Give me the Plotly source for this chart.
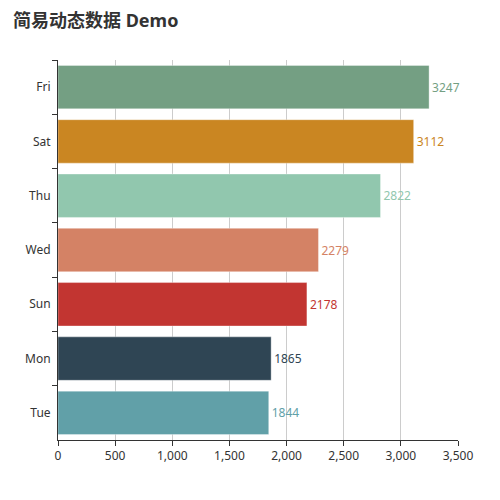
import plotly.graph_objects as go

# **** Data
days = ["Fri", "Sat", "Thu", "Wed", "Sun", "Mon", "Tue"]
values = [3247, 3112, 2822, 2279, 2178, 1865, 1844]
colors = ["#749f83", "#ca8622", "#91c7ae", "#d48265", "#c23531", "#2f4554", "#61a0a8"]
x_ticks = [0, 500, 1000, 1500, 2000, 2500, 3000, 3500]

font_family = "Noto Sans, Noto Sans CJK SC, sans-serif"

# the page puts the figure 8px in from the top-left corner
off = 8
fig_w, fig_h = 500 - off, 500 - off
# plot area in page pixels: 58..458 across, 60..440 down
ml, mt, pw, ph = 58 - off, 60 - off, 400, 380

fig = go.Figure()
fig.add_trace(
    go.Bar(
        orientation="h",
        x=values,
        y=days,
        marker=dict(color=colors, line=dict(color="rgba(255,255,255,0.35)", width=1)),
        text=[str(v) for v in values],
        textposition="outside",
        textfont=dict(color=colors, size=12, family=font_family),
        cliponaxis=False,
        showlegend=False,
        hoverinfo="skip",
    )
)

fig.update_layout(
    width=fig_w,
    height=fig_h,
    margin=dict(l=ml, r=fig_w - ml - pw, t=mt, b=fig_h - mt - ph),
    paper_bgcolor="white",
    plot_bgcolor="white",
    bargap=0.2,
    font=dict(family=font_family, size=12, color="#333"),
    title=dict(
        text="<b>简易动态数据 Demo</b>",
        x=(13 - off) / fig_w, xanchor="left",
        y=1 - 6 / fig_h, yanchor="top",
        font=dict(size=18, color="#333", family=font_family),
    ),
    xaxis=dict(
        range=[0, 3500],
        tickvals=x_ticks,
        tickformat=",d",
        showgrid=True,
        gridcolor="#cccccc",
        gridwidth=1,
        zeroline=False,
        showline=True,
        linecolor="#333",
        linewidth=1,
        ticks="outside",
        ticklen=5,
        tickcolor="#333",
        tickfont=dict(color="#333", size=12),
    ),
    yaxis=dict(
        autorange="reversed",
        type="category",
        showgrid=False,
        zeroline=False,
        showline=True,
        linecolor="#333",
        linewidth=1,
        ticks="outside",
        tickson="boundaries",
        ticklen=5,
        tickcolor="#333",
        tickfont=dict(color="#333", size=12),
        ticklabelstandoff=4,
    ),
)

fig.write_html("out.html")
